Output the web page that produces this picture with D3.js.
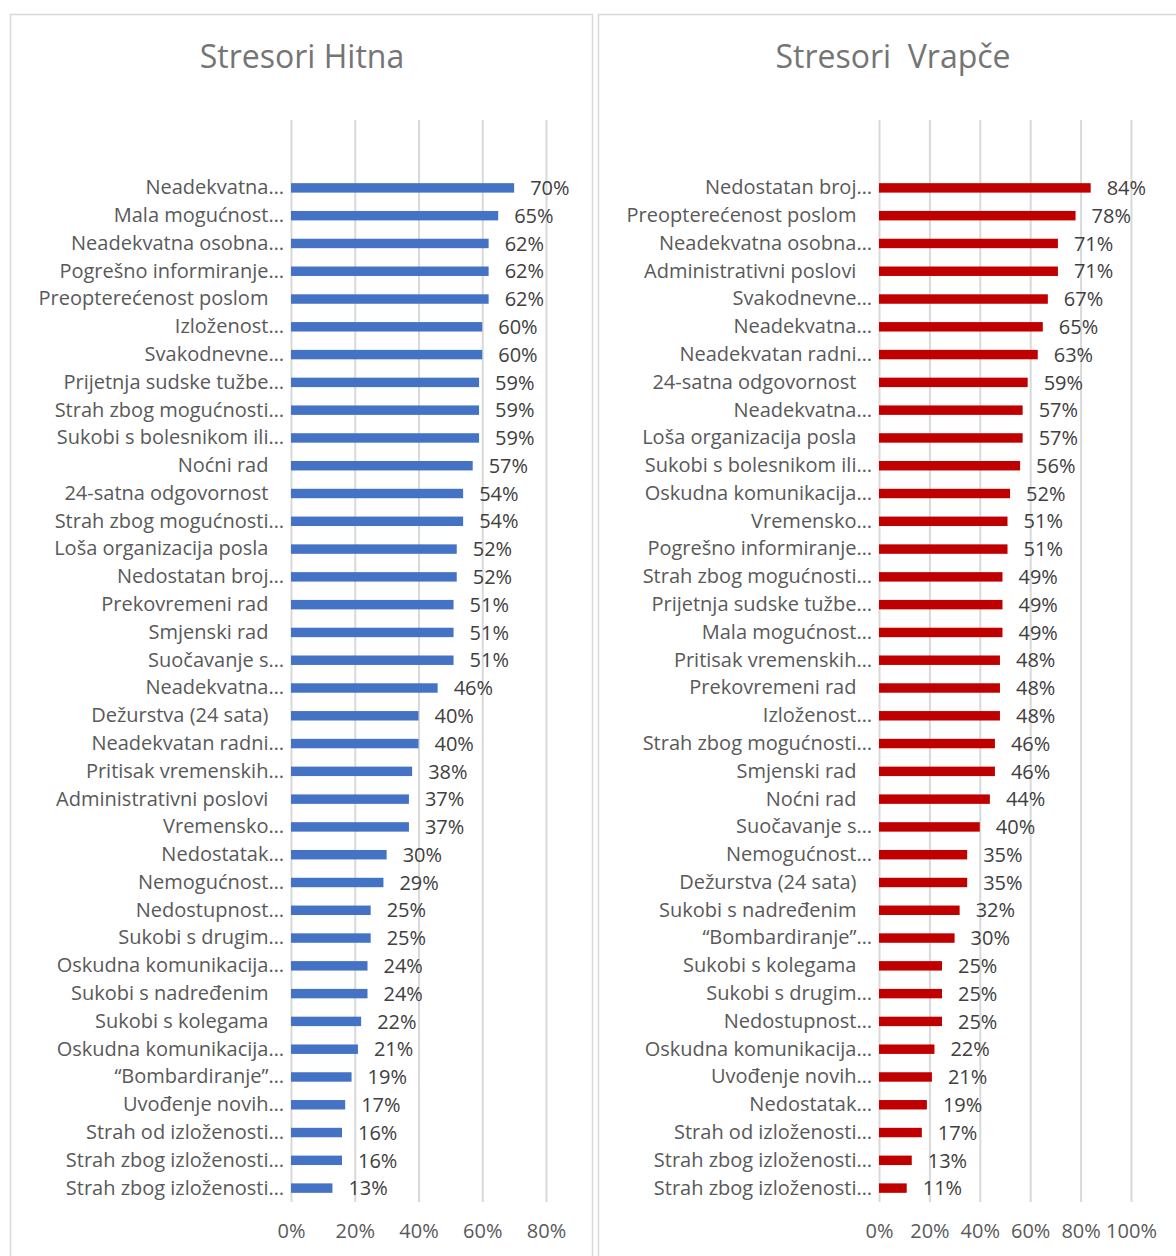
<!DOCTYPE html>
<html>
<head>
<meta charset="utf-8">
<script src="https://cdn.jsdelivr.net/npm/d3@7"></script>
<style>
  body { margin: 0; background: #fff; }
  svg { display: block; font-family: "Open Sans", sans-serif; }
  .lbl text { white-space: pre; }
</style>
</head>
<body>
<svg id="chart" width="1176" height="1256"></svg>
<script>
// Stresori Hitna
const hitnaLabels = [
  "Neadekvatna…", "Mala mogućnost…", "Neadekvatna osobna…", "Pogrešno informiranje…",
  "Preopterećenost poslom ", "Izloženost…", "Svakodnevne…", "Prijetnja sudske tužbe…",
  "Strah zbog mogućnosti…", "Sukobi s bolesnikom ili…", "Noćni rad ", "24-satna odgovornost ",
  "Strah zbog mogućnosti…", "Loša organizacija posla ", "Nedostatan broj…", "Prekovremeni rad ",
  "Smjenski rad ", "Suočavanje s…", "Neadekvatna…", "Dežurstva (24 sata) ",
  "Neadekvatan radni…", "Pritisak vremenskih…", "Administrativni poslovi ", "Vremensko…",
  "Nedostatak…", "Nemogućnost…", "Nedostupnost…", "Sukobi s drugim…",
  "Oskudna komunikacija…", "Sukobi s nadređenim ", "Sukobi s kolegama ", "Oskudna komunikacija…",
  "“Bombardiranje”…", "Uvođenje novih…", "Strah od izloženosti…", "Strah zbog izloženosti…",
  "Strah zbog izloženosti…"
];
const hitnaValues = [
  0.70, 0.65, 0.62, 0.62, 0.62, 0.60, 0.60, 0.59, 0.59, 0.59, 0.57, 0.54, 0.54,
  0.52, 0.52, 0.51, 0.51, 0.51, 0.46, 0.40, 0.40, 0.38, 0.37, 0.37, 0.30, 0.29,
  0.25, 0.25, 0.24, 0.24, 0.22, 0.21, 0.19, 0.17, 0.16, 0.16, 0.13
];
const hitnaTicks = [0, 0.2, 0.4, 0.6, 0.8];

// Stresori Vrapče
const vrapceLabels = [
  "Nedostatan broj…", "Preopterećenost poslom ", "Neadekvatna osobna…", "Administrativni poslovi ",
  "Svakodnevne…", "Neadekvatna…", "Neadekvatan radni…", "24-satna odgovornost ",
  "Neadekvatna…", "Loša organizacija posla ", "Sukobi s bolesnikom ili…", "Oskudna komunikacija…",
  "Vremensko…", "Pogrešno informiranje…", "Strah zbog mogućnosti…", "Prijetnja sudske tužbe…",
  "Mala mogućnost…", "Pritisak vremenskih…", "Prekovremeni rad ", "Izloženost…",
  "Strah zbog mogućnosti…", "Smjenski rad ", "Noćni rad ", "Suočavanje s…",
  "Nemogućnost…", "Dežurstva (24 sata) ", "Sukobi s nadređenim ", "“Bombardiranje”…",
  "Sukobi s kolegama ", "Sukobi s drugim…", "Nedostupnost…", "Oskudna komunikacija…",
  "Uvođenje novih…", "Nedostatak…", "Strah od izloženosti…", "Strah zbog izloženosti…",
  "Strah zbog izloženosti…"
];
const vrapceValues = [
  0.84, 0.78, 0.71, 0.71, 0.67, 0.65, 0.63, 0.59, 0.57, 0.57, 0.56, 0.52, 0.51,
  0.51, 0.49, 0.49, 0.49, 0.48, 0.48, 0.48, 0.46, 0.46, 0.44, 0.40, 0.35, 0.35,
  0.32, 0.30, 0.25, 0.25, 0.25, 0.22, 0.21, 0.19, 0.17, 0.13, 0.11
];
const vrapceTicks = [0, 0.2, 0.4, 0.6, 0.8, 1.0];

const svg = d3.select("#chart");
const pct = d3.format(".0%");

function drawPanel(opt) {
  const g = svg.append("g");

  // panel frame
  g.append("rect")
    .attr("x", opt.frame[0] + 0.5).attr("y", 14.5)
    .attr("width", opt.frame[1]).attr("height", 1300)
    .attr("fill", "#fff").attr("stroke", "#d9d9d9").attr("stroke-width", 1.5);

  g.append("text")
    .attr("x", opt.titleX).attr("y", 68)
    .attr("text-anchor", "middle")
    .attr("font-size", 32)
    .attr("fill", "#757575")
    .style("white-space", "pre")
    .text(opt.title);

  const x = d3.scaleLinear().domain([0, opt.max]).range(opt.xr);
  const y = d3.scaleBand()
    .domain(d3.range(opt.labels.length))
    .range([174, 1202])
    .paddingInner(0.66).paddingOuter(0.33);

  // gridlines + tick labels
  const xa = g.append("g")
    .attr("transform", "translate(0,1202)")
    .call(d3.axisBottom(x).tickValues(opt.ticks).tickFormat(pct)
      .tickSize(-(1202 - 120)).tickPadding(22));
  xa.select(".domain").remove();
  xa.selectAll("line").attr("stroke", "#d9d9d9").attr("stroke-width", 2);
  xa.selectAll("text").attr("font-size", 20).attr("fill", "#595959")
    .attr("font-family", "'Open Sans', sans-serif");

  // category labels
  const ya = g.append("g")
    .attr("class", "lbl")
    .attr("transform", "translate(" + opt.xr[0] + ",0)")
    .call(d3.axisLeft(y).tickSize(0).tickPadding(7)
      .tickFormat(function (i) { return opt.labels[i].replace(/ $/, "\u00a0\u00a0\u00a0"); }));
  ya.select(".domain").remove();
  ya.selectAll("text").attr("font-size", 20).attr("fill", "#595959")
    .attr("font-family", "'Open Sans', sans-serif");

  g.selectAll(".bar")
    .data(opt.values)
    .enter().append("rect")
    .attr("class", "bar")
    .attr("x", x(0))
    .attr("y", function (d, i) { return y(i); })
    .attr("width", function (d) { return x(d) - x(0); })
    .attr("height", y.bandwidth())
    .attr("fill", opt.color);

  g.selectAll(".val")
    .data(opt.values)
    .enter().append("text")
    .attr("class", "val")
    .attr("x", function (d) { return x(d) + 16; })
    .attr("y", function (d, i) { return y(i) + y.bandwidth() / 2; })
    .attr("dy", "0.36em")
    .attr("font-size", 20)
    .attr("fill", "#404040")
    .text(function (d) { return pct(d); });
}

drawPanel({
  frame: [10, 582], title: "Stresori Hitna", titleX: 302,
  labels: hitnaLabels, values: hitnaValues, ticks: hitnaTicks,
  max: 0.8, xr: [291, 546], color: "#4472c4"
});

drawPanel({
  frame: [598, 600], title: "Stresori  Vrapče", titleX: 893,
  labels: vrapceLabels, values: vrapceValues, ticks: vrapceTicks,
  max: 1.0, xr: [879, 1131], color: "#c00000"
});
</script>
</body>
</html>
